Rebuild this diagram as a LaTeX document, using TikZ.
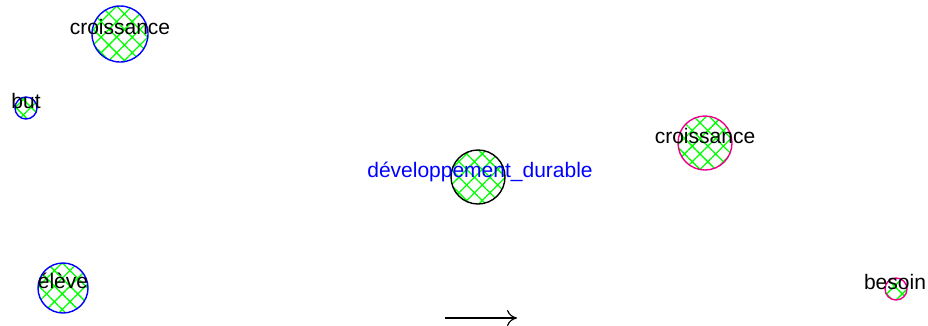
\documentclass[tikz,border=0pt]{standalone}
\usepackage{fontspec}
\setmainfont{Liberation Sans}
\usetikzlibrary{patterns.meta,arrows.meta}

\tikzset{
  mot/.style={circle, inner sep=0pt, minimum size=#1, line width=1.4pt,
    preaction={pattern={Lines[angle=45,distance=11pt,line width=1.3pt]}, pattern color=green},
    pattern={Lines[angle=-45,distance=11pt,line width=1.3pt]}, pattern color=green},
  etiquette/.style={anchor=base, inner sep=0pt, font=\fontsize{21}{25}\selectfont}
}

\begin{document}
\begin{tikzpicture}[x=1pt,y=-1pt]
\useasboundingbox (0,0) rectangle (928,325);
\node[mot=56, draw=blue] (croissanceA) at (120,34) {};
\node[etiquette] at (croissanceA.center) {croissance};
\node[mot=22, draw=blue] (but) at (26,108) {};
\node[etiquette] at (but.center) {but};
\node[mot=54, draw=black] (dd) at (478,177) {};
\node[etiquette, blue] at ([xshift=2pt]dd.center) {développement\_durable};
\node[mot=54, draw=magenta] (croissanceB) at (705,143) {};
\node[etiquette] at (croissanceB.center) {croissance};
\node[mot=50, draw=blue] (eleve) at (63,288) {};
\node[etiquette] at (eleve.center) {élève};
\node[mot=22, draw=magenta] (besoin) at (896,289) {};
\node[etiquette] at ([xshift=-1pt]besoin.center) {besoin};
\coordinate (flecheA) at (445,318);
\coordinate (flecheB) at (517,318);
\draw[-{To[length=10pt,width=16pt]}, line width=1.2pt] (flecheA) -- (flecheB);
\end{tikzpicture}
\end{document}
